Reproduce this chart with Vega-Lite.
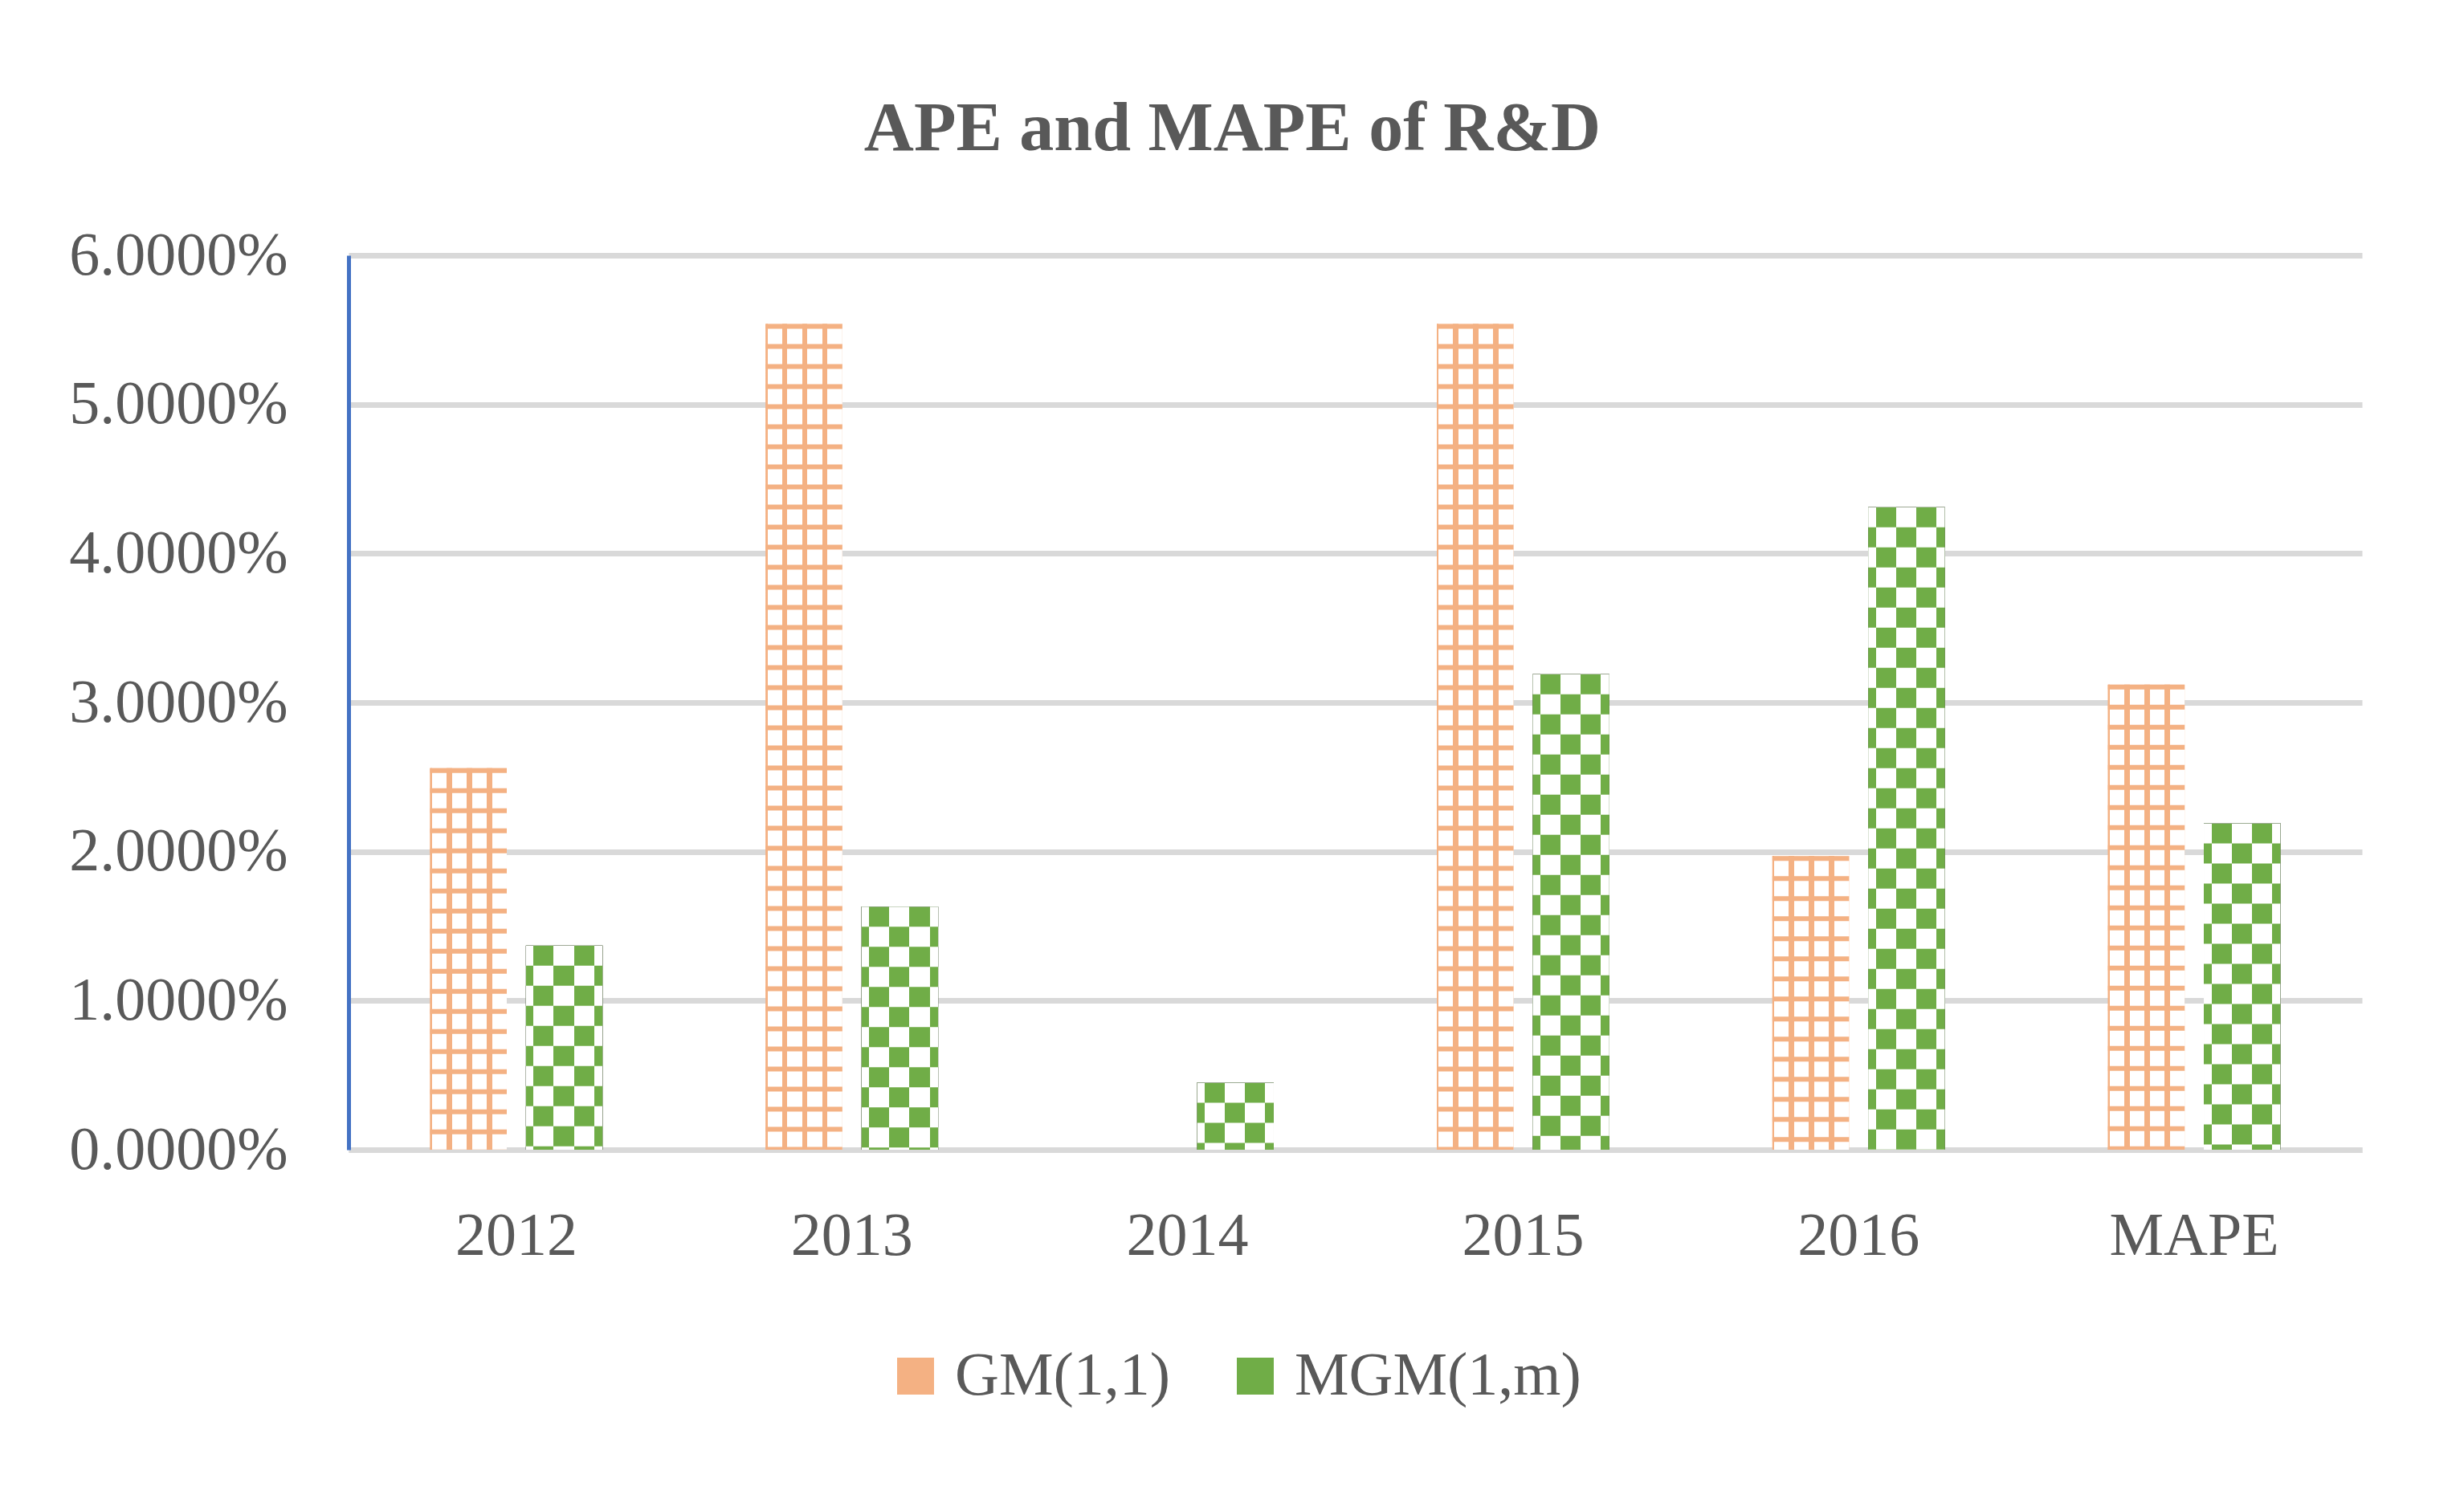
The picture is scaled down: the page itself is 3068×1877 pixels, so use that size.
{
  "$schema": "https://vega.github.io/schema/vega-lite/v6.json",
  "width": 2507,
  "height": 1114,
  "autosize": {"type": "none"},
  "padding": {"left": 434, "top": 318, "right": 127, "bottom": 445},
  "background": "white",
  "title": {
    "text": "APE and MAPE of R&D",
    "font": "Liberation Serif",
    "fontSize": 86,
    "fontWeight": "bold",
    "color": "#595959",
    "anchor": "middle",
    "frame": "group",
    "dx": -153,
    "offset": 7,
    "baseline": "alphabetic"
  },
  "data": {
    "values": [
      {"cat": "2012", "series": "GM(1,1)", "value": 0.0256},
      {"cat": "2012", "series": "MGM(1,m)", "value": 0.0137},
      {"cat": "2013", "series": "GM(1,1)", "value": 0.0554},
      {"cat": "2013", "series": "MGM(1,m)", "value": 0.0163},
      {"cat": "2014", "series": "GM(1,1)", "value": 0.0},
      {"cat": "2014", "series": "MGM(1,m)", "value": 0.0045},
      {"cat": "2015", "series": "GM(1,1)", "value": 0.0554},
      {"cat": "2015", "series": "MGM(1,m)", "value": 0.0319},
      {"cat": "2016", "series": "GM(1,1)", "value": 0.0197},
      {"cat": "2016", "series": "MGM(1,m)", "value": 0.0431},
      {"cat": "MAPE", "series": "GM(1,1)", "value": 0.0312},
      {"cat": "MAPE", "series": "MGM(1,m)", "value": 0.0219}
    ]
  },
  "encoding": {
    "x": {
      "field": "cat",
      "type": "nominal",
      "sort": ["2012", "2013", "2014", "2015", "2016", "MAPE"],
      "scale": {"paddingInner": 0.486, "paddingOuter": 0.243},
      "axis": {
        "title": null,
        "labelFont": "Liberation Serif",
        "labelFontSize": 76,
        "labelColor": "#595959",
        "labelAngle": 0,
        "labelLimit": 0,
        "ticks": false,
        "labelPadding": 70,
        "domainColor": "#D9D9D9",
        "domainWidth": 7,
        "grid": false
      }
    },
    "xOffset": {
      "field": "series",
      "type": "nominal",
      "scale": {"domain": ["GM(1,1)", "MGM(1,m)"], "paddingInner": 0.2, "paddingOuter": 0}
    },
    "y": {
      "field": "value",
      "type": "quantitative",
      "stack": null,
      "scale": {"domain": [0, 0.06], "nice": false},
      "axis": {
        "title": null,
        "format": ".4%",
        "values": [0, 0.01, 0.02, 0.03, 0.04, 0.05, 0.06],
        "labelFont": "Liberation Serif",
        "labelFontSize": 76,
        "labelColor": "#595959",
        "labelLimit": 0,
        "ticks": false,
        "labelPadding": 76,
        "domainColor": "#4472C4",
        "domainWidth": 5,
        "gridColor": "#D9D9D9",
        "gridWidth": 7
      }
    }
  },
  "layer": [
    {
      "mark": {"type": "bar"},
      "encoding": {
        "color": {
          "field": "series",
          "type": "nominal",
          "scale": {"domain": ["GM(1,1)", "MGM(1,m)"], "range": ["#F4B183", "#70AD47"]},
          "legend": {
            "title": null,
            "orient": "none",
            "legendX": 668,
            "legendY": 1358,
            "direction": "horizontal",
            "symbolType": "square",
            "symbolSize": 2116,
            "symbolStrokeWidth": 0,
            "labelFont": "Liberation Serif",
            "labelFontSize": 76,
            "labelColor": "#595959",
            "labelLimit": 0,
            "labelOffset": 11,
            "columnPadding": 67
          }
        }
      }
    },
    {
      "transform": [{"filter": "datum.series === 'GM(1,1)'"}],
      "mark": {
        "type": "bar",
        "fill": {
          "gradient": "linear",
          "x1": 0, "y1": 0, "x2": 1, "y2": 0,
          "stops": [
            {"offset": 0, "color": "#F4B183"},
            {"offset": 0.025, "color": "#F4B183"},
            {"offset": 0.025, "color": "#FFFFFF"},
            {"offset": 0.213, "color": "#FFFFFF"},
            {"offset": 0.213, "color": "#F4B183"},
            {"offset": 0.283, "color": "#F4B183"},
            {"offset": 0.283, "color": "#FFFFFF"},
            {"offset": 0.476, "color": "#FFFFFF"},
            {"offset": 0.476, "color": "#F4B183"},
            {"offset": 0.545, "color": "#F4B183"},
            {"offset": 0.545, "color": "#FFFFFF"},
            {"offset": 0.738, "color": "#FFFFFF"},
            {"offset": 0.738, "color": "#F4B183"},
            {"offset": 0.808, "color": "#F4B183"},
            {"offset": 0.808, "color": "#FFFFFF"},
            {"offset": 1, "color": "#FFFFFF"}
          ]
        }
      }
    },
    {
      "transform": [{"filter": "datum.series === 'GM(1,1)'"}],
      "mark": {"type": "rule", "stroke": "#F4B183", "strokeWidth": 95.5, "strokeDash": [6, 19], "strokeCap": "butt"},
      "encoding": {"y2": {"datum": 0}}
    },
    {
      "transform": [{"filter": "datum.series === 'MGM(1,m)'"}],
      "mark": {
        "type": "bar",
        "fill": {
          "gradient": "linear",
          "x1": 0, "y1": 0, "x2": 1, "y2": 0,
          "stops": [
            {"offset": 0, "color": "#000000"},
            {"offset": 0.1, "color": "#000000"},
            {"offset": 0.1, "color": "#FFFFFF"},
            {"offset": 0.363, "color": "#FFFFFF"},
            {"offset": 0.363, "color": "#000000"},
            {"offset": 0.626, "color": "#000000"},
            {"offset": 0.626, "color": "#FFFFFF"},
            {"offset": 0.889, "color": "#FFFFFF"},
            {"offset": 0.889, "color": "#000000"},
            {"offset": 1, "color": "#000000"}
          ]
        }
      }
    },
    {
      "transform": [{"filter": "datum.series === 'MGM(1,m)'"}],
      "mark": {"type": "rule", "stroke": "#FFFFFF", "strokeWidth": 95.5, "strokeDash": [25, 25], "strokeCap": "butt", "blend": "difference"},
      "encoding": {"y2": {"datum": 0}}
    },
    {
      "transform": [{"filter": "datum.series === 'MGM(1,m)'"}],
      "mark": {"type": "bar", "fill": "#70AD47", "blend": "screen"}
    }
  ],
  "config": {
    "view": {"stroke": null},
    "font": "Liberation Serif"
  }
}
